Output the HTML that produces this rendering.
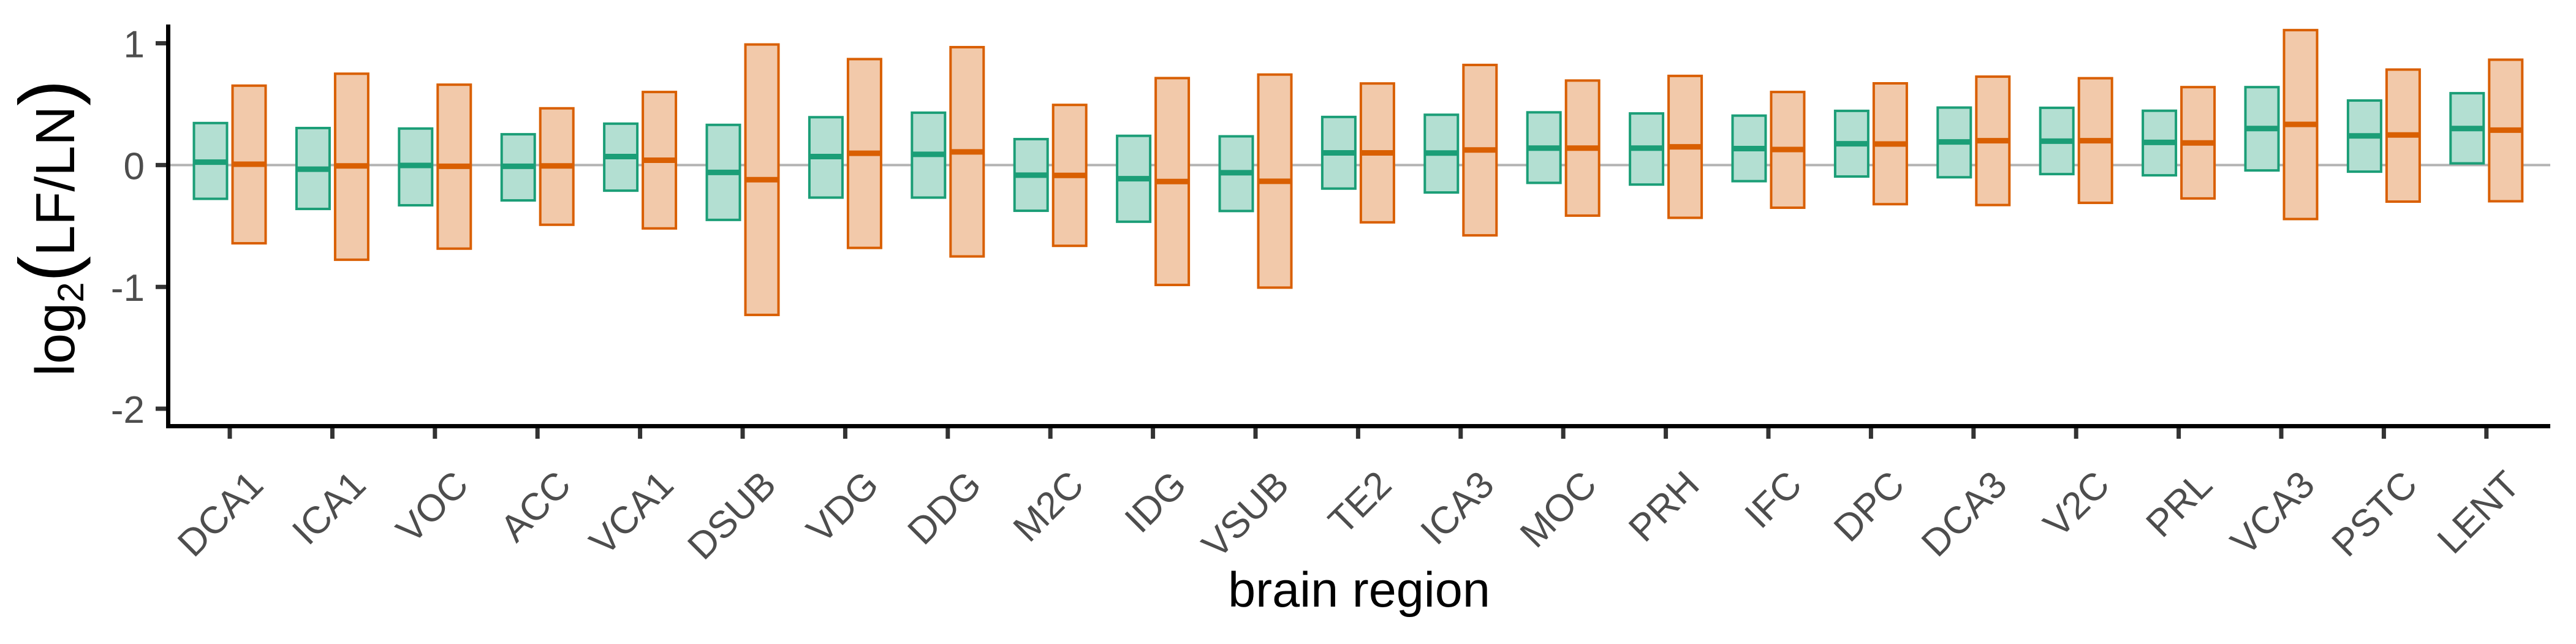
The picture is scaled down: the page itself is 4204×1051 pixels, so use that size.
<!DOCTYPE html>
<html><head><meta charset="utf-8"><style>
html,body{margin:0;padding:0;background:#fff;}
svg{display:block;}
text{font-family:"Liberation Sans",Arial,sans-serif;}
</style></head><body>
<svg id="chart" width="4204" height="1051" viewBox="0 0 4204 1051" xmlns="http://www.w3.org/2000/svg">
<g id="plot"></g>
<text x="2218" y="990" font-size="81" text-anchor="middle" fill="#000">brain region</text>
<g transform="translate(121,372) rotate(-90)">
<text x="0" y="0" text-anchor="middle" fill="#000" font-size="90">log<tspan font-size="60" dy="15">2</tspan><tspan font-size="128" dy="-15">(</tspan>LF/LN<tspan font-size="128">)</tspan></text>
</g>
</svg>
<script>
const regions = ["DCA1","ICA1","VOC","ACC","VCA1","DSUB","VDG","DDG","M2C","IDG","VSUB","TE2","ICA3","MOC","PRH","IFC","DPC","DCA3","V2C","PRL","VCA3","PSTC","LENT"];
const greenHigh = [0.345,0.304,0.30,0.253,0.34,0.33,0.393,0.43,0.213,0.24,0.236,0.395,0.413,0.433,0.424,0.406,0.445,0.472,0.47,0.446,0.64,0.53,0.59];
const greenLow  = [-0.277,-0.36,-0.33,-0.29,-0.21,-0.45,-0.267,-0.267,-0.375,-0.465,-0.377,-0.193,-0.225,-0.146,-0.16,-0.132,-0.094,-0.10,-0.074,-0.084,-0.044,-0.054,0.014];
const greenMid  = [0.024,-0.034,-0.003,-0.01,0.07,-0.06,0.07,0.088,-0.083,-0.112,-0.063,0.10,0.099,0.139,0.139,0.135,0.175,0.19,0.196,0.186,0.30,0.24,0.30];
const orangeHigh = [0.652,0.75,0.66,0.466,0.60,0.99,0.87,0.968,0.494,0.714,0.743,0.67,0.822,0.694,0.732,0.60,0.671,0.726,0.713,0.64,1.108,0.784,0.865];
const orangeLow  = [-0.642,-0.777,-0.686,-0.49,-0.52,-1.23,-0.68,-0.75,-0.663,-0.984,-1.006,-0.47,-0.577,-0.415,-0.433,-0.35,-0.321,-0.328,-0.31,-0.274,-0.443,-0.30,-0.297];
const orangeMid  = [0.007,-0.007,-0.01,-0.007,0.04,-0.12,0.097,0.108,-0.085,-0.135,-0.133,0.10,0.124,0.139,0.15,0.128,0.173,0.20,0.20,0.182,0.334,0.247,0.287];
const yTicks = [1,0,-1,-2];

const NS = "http://www.w3.org/2000/svg";
const g = document.getElementById("plot");
const X0 = 375, DX = 167.4;
function xScale(i){ return X0 + i*DX; }
function yScale(v){ return 269.4 - v*198.8; }
function mk(tag, attrs, parent){
  const e = document.createElementNS(NS, tag);
  for (const k in attrs) e.setAttribute(k, attrs[k]);
  (parent||g).appendChild(e);
  return e;
}
const zl = mk("line",{x1:278,x2:4162,y1:yScale(0),y2:yScale(0),stroke:"#b3b3b3","stroke-width":4});



const BW = 54;
function drawBox(cx, hi, lo, mid, stroke, fill, name){
  const grp = mk("g",{});
  
  
  const yt = yScale(hi), yb = yScale(lo);
  mk("rect",{x:cx-BW/2,y:yt,width:BW,height:yb-yt,fill:fill,stroke:stroke,"stroke-width":4},grp);
  mk("line",{x1:cx-BW/2,x2:cx+BW/2,y1:yScale(mid),y2:yScale(mid),stroke:stroke,"stroke-width":9},grp);
}
regions.forEach((r,i)=>{
  const cx = xScale(i);
  drawBox(cx-31.5, greenHigh[i], greenLow[i], greenMid[i], "#1b9e77", "#b3dfd2", "box-lf-"+r.toLowerCase());
  drawBox(cx+31.5, orangeHigh[i], orangeLow[i], orangeMid[i], "#d95f02", "#f2c9aa", "box-ln-"+r.toLowerCase());
  const t = mk("line",{x1:cx,x2:cx,y1:698,y2:716,stroke:"#333","stroke-width":7});
  
  
  const lb = mk("text",{x:0,y:0,"font-size":62,"text-anchor":"end",fill:"#4d4d4d",transform:"translate("+(cx+58)+",795) rotate(-45)"});
  lb.textContent = r;
  
  
});
yTicks.forEach(v=>{
  const y = yScale(v);
  const t = mk("line",{x1:254,x2:275,y1:y,y2:y,stroke:"#333","stroke-width":7});
  
  
  const lb = mk("text",{x:236,y:y+23,"font-size":62,"text-anchor":"end",fill:"#4d4d4d"});
  lb.textContent = v;
  
  
});
const ya = mk("line",{x1:274.5,x2:274.5,y1:40,y2:699,stroke:"#000","stroke-width":7});


const xa = mk("line",{x1:271,x2:4162,y1:695.5,y2:695.5,stroke:"#000","stroke-width":7});


</script>
</body></html>
